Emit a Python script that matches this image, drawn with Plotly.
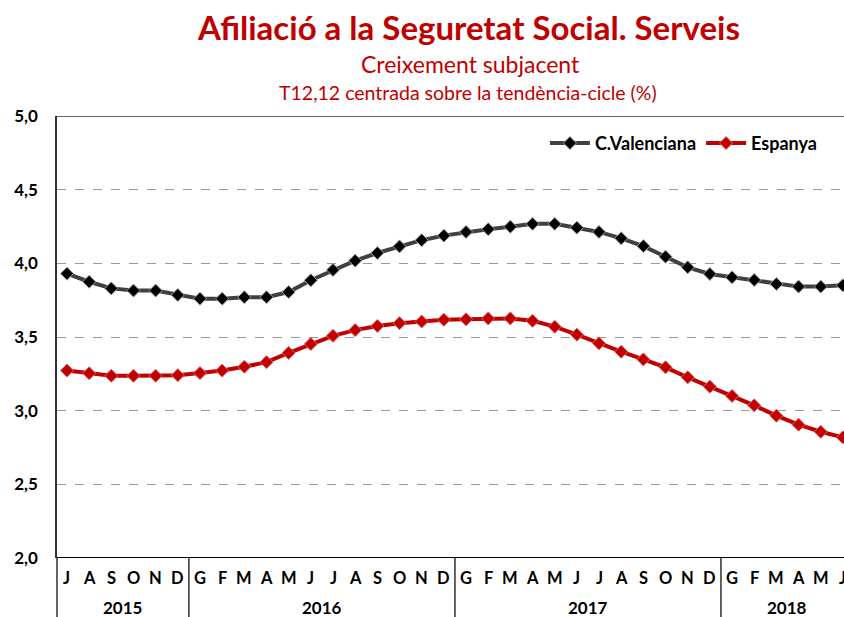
import plotly.graph_objects as go

months = ["J","A","S","O","N","D",
          "G","F","M","A","M","J","J","A","S","O","N","D",
          "G","F","M","A","M","J","J","A","S","O","N","D",
          "G","F","M","A","M","J"]
years = ["2015", "2016", "2017", "2018"]
year_start = [0, 6, 18, 30]
year_end = [5, 17, 29, 35]

cval = [3.93, 3.875, 3.83, 3.815, 3.815, 3.785, 3.76, 3.76, 3.77, 3.77, 3.805, 3.885,
        3.955, 4.018, 4.07, 4.115, 4.157, 4.188, 4.213, 4.232, 4.249, 4.268, 4.268, 4.242,
        4.213, 4.17, 4.117, 4.045, 3.973, 3.928, 3.905, 3.887, 3.86, 3.842, 3.842, 3.851]
esp = [3.272, 3.254, 3.237, 3.237, 3.237, 3.241, 3.255, 3.272, 3.298, 3.329, 3.392, 3.452,
       3.508, 3.547, 3.575, 3.594, 3.605, 3.617, 3.62, 3.626, 3.626, 3.61, 3.57, 3.516,
       3.457, 3.40, 3.348, 3.294, 3.226, 3.163, 3.10, 3.036, 2.966, 2.905, 2.857, 2.819]

FONT = "Lato, Carlito, Open Sans, sans-serif"
RED = "#C00000"

x = list(range(len(months)))
XMIN, XMAX = -0.45, 35.05

fig = go.Figure()
fig.add_trace(go.Scatter(
    x=x, y=cval, name="C.Valenciana", mode="lines+markers",
    line=dict(color="#404040", width=4),
    marker=dict(symbol="diamond", size=10, color="black", line=dict(color="#a0a0a0", width=1)),
))
fig.add_trace(go.Scatter(
    x=x, y=esp, name="Espanya", mode="lines+markers",
    line=dict(color=RED, width=4),
    marker=dict(symbol="diamond", size=10, color=RED, line=dict(color="#e06060", width=1)),
))

def px(v):
    return (v - XMIN) / (XMAX - XMIN)

shapes = []
shapes.append(dict(type="line", xref="paper", yref="y", x0=0, x1=1, y0=5.0, y1=5.0,
                   line=dict(color="#303030", width=1.5)))
shapes.append(dict(type="line", xref="paper", yref="y", x0=0, x1=1, y0=2.0, y1=2.0,
                   line=dict(color="black", width=2)))
seps = [XMIN] + [s - 0.5 for s in year_start[1:]]
for s in seps:
    shapes.append(dict(type="line", xref="paper", yref="paper", x0=px(s), x1=px(s),
                       y0=0, y1=-0.14, line=dict(color="#303030", width=1.5)))

annotations = []
for i, m in enumerate(months):
    annotations.append(dict(x=i, y=0, xref="x", yref="paper", text=m, showarrow=False,
                            yshift=-20, yanchor="middle",
                            font=dict(family=FONT, size=16.5, color="black", weight="bold")))
for yr, a, b in zip(years, year_start, year_end):
    annotations.append(dict(x=(a + b) / 2, y=0, xref="x", yref="paper", text=yr, showarrow=False,
                            yshift=-49, yanchor="middle",
                            font=dict(family=FONT, size=17, color="black", weight="bold")))

def paper_x(pxl):
    return (pxl - 57) / (844 - 57)

annotations.append(dict(x=paper_x(468), y=1, xref="paper", yref="paper", yshift=89,
                        text="<b>Afiliació a la Seguretat Social. Serveis</b>", showarrow=False,
                        yanchor="middle", font=dict(family=FONT, size=33, color=RED)))
annotations.append(dict(x=paper_x(470), y=1, xref="paper", yref="paper", yshift=52,
                        text="Creixement subjacent", showarrow=False, yanchor="middle",
                        font=dict(family=FONT, size=23, color=RED)))
annotations.append(dict(x=paper_x(468), y=1, xref="paper", yref="paper", yshift=24,
                        text="T12,12 centrada sobre la tendència-cicle (%)", showarrow=False,
                        yanchor="middle", font=dict(family=FONT, size=19.5, color=RED)))

fig.update_layout(
    width=844, height=617,
    margin=dict(l=57, r=0, t=116, b=59, autoexpand=False),
    paper_bgcolor="white", plot_bgcolor="white",
    separators=",.",
    showlegend=True,
    legend=dict(orientation="h", x=0.62, y=0.98, xanchor="left", yanchor="top",
                font=dict(family=FONT, size=18, color="black", weight="bold"),
                bgcolor="rgba(0,0,0,0)", itemwidth=40),
    xaxis=dict(range=[XMIN, XMAX], showticklabels=False, showgrid=False, zeroline=False,
               showline=False, ticks="", automargin=False),
    yaxis=dict(range=[2.0, 5.0], dtick=0.5, tick0=2.0, tickformat=".1f", automargin=False,
               showgrid=True, gridcolor="#9a9a9a", griddash="dash", gridwidth=1,
               zeroline=False, showline=True, linecolor="#303030", linewidth=1.5,
               ticks="", ticklabelstandoff=14,
               tickfont=dict(family=FONT, size=17, color="black", weight="bold")),
    shapes=shapes,
    annotations=annotations,
)

fig.write_html("out.html", config={"displayModeBar": False})

# remove default page margins so the figure sits at the window's top-left corner
with open("out.html", "r", encoding="utf-8") as f:
    html = f.read()
html = html.replace("<head>", "<head><style>html,body{margin:0;padding:0;overflow:hidden;}</style>", 1)
with open("out.html", "w", encoding="utf-8") as f:
    f.write(html)
